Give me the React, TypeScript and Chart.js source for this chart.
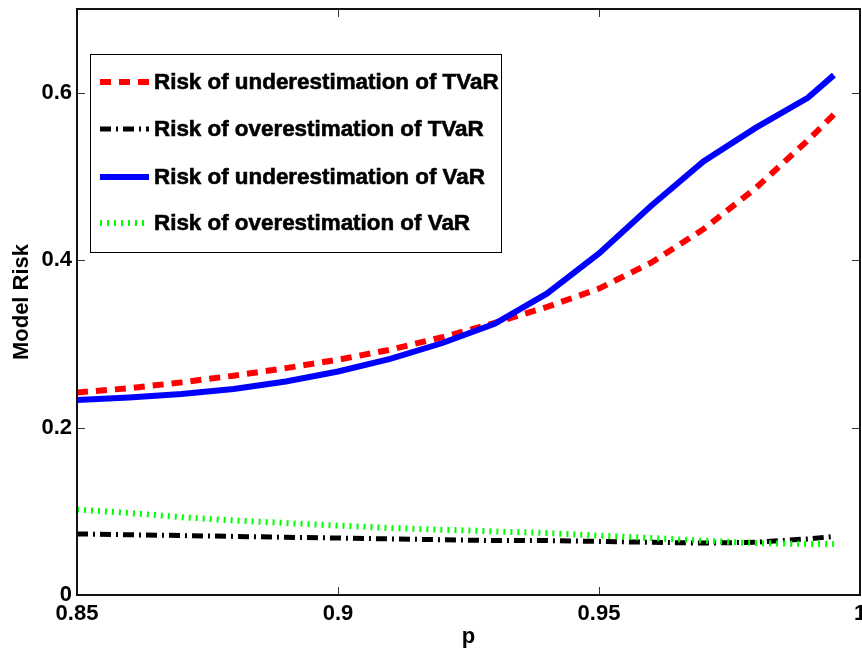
import React, { useEffect, useRef } from "react";
import { Chart, registerables } from "chart.js";

Chart.register(...registerables);

const P = [0.85, 0.86, 0.87, 0.88, 0.89, 0.9, 0.91, 0.92, 0.93, 0.94, 0.95, 0.96, 0.97, 0.98, 0.99, 0.995];
const UNDER_TVAR = [0.242, 0.247, 0.254, 0.262, 0.271, 0.281, 0.293, 0.308, 0.325, 0.344, 0.366, 0.397, 0.437, 0.486, 0.543, 0.574];
const OVER_TVAR = [0.073, 0.072, 0.071, 0.070, 0.069, 0.068, 0.067, 0.066, 0.065, 0.065, 0.064, 0.063, 0.062, 0.063, 0.067, 0.070];
const UNDER_VAR = [0.233, 0.236, 0.240, 0.246, 0.255, 0.267, 0.282, 0.301, 0.324, 0.360, 0.408, 0.465, 0.518, 0.558, 0.594, 0.621];
const OVER_VAR = [0.102, 0.098, 0.093, 0.089, 0.086, 0.083, 0.080, 0.078, 0.076, 0.074, 0.071, 0.068, 0.065, 0.062, 0.061, 0.061];

const X_TICKS = [0.85, 0.9, 0.95, 1];
const Y_TICKS = [0, 0.2, 0.4, 0.6];
const X_LABEL = "p";
const Y_LABEL = "Model Risk";
const SERIES_LABELS = [
  "Risk of underestimation of TVaR",
  "Risk of overestimation of TVaR",
  "Risk of underestimation of VaR",
  "Risk of overestimation of VaR",
];

const FONT = "'Liberation Sans', Arial, sans-serif";

const pts = (ys: number[]) => P.map((x, i) => ({ x, y: ys[i] }));

const boxPlugin = {
  id: "boxAndLegend",
  afterDraw(chart: any) {
    const { ctx, chartArea } = chart;
    const { left, right, top, bottom } = chartArea;
    const xs = chart.scales.x;
    const ys = chart.scales.y;
    ctx.save();
    // inward ticks
    ctx.strokeStyle = "#333";
    ctx.lineWidth = 1;
    ctx.beginPath();
    X_TICKS.forEach((v) => {
      const px = Math.round(xs.getPixelForValue(v)) + 0.5;
      ctx.moveTo(px, bottom);
      ctx.lineTo(px, bottom - 8);
      ctx.moveTo(px, top);
      ctx.lineTo(px, top + 8);
    });
    Y_TICKS.forEach((v) => {
      const py = Math.round(ys.getPixelForValue(v)) + 0.5;
      ctx.moveTo(left, py);
      ctx.lineTo(left + 8, py);
      ctx.moveTo(right, py);
      ctx.lineTo(right - 8, py);
    });
    ctx.stroke();
    // box
    ctx.strokeStyle = "#111";
    ctx.lineWidth = 2;
    ctx.strokeRect(left, top, right - left, bottom - top);

    // legend
    const lx = 90, ly = 54, lw = 411, lh = 198;
    ctx.fillStyle = "#fff";
    ctx.fillRect(lx, ly, lw, lh);
    ctx.strokeStyle = "#000";
    ctx.lineWidth = 1;
    ctx.strokeRect(lx + 0.5, ly + 0.5, lw, lh);
    const rows = [82, 129, 177, 223];
    chart.data.datasets.forEach((ds: any, i: number) => {
      const y = rows[i];
      ctx.save();
      ctx.strokeStyle = ds.borderColor;
      ctx.lineWidth = ds.borderWidth;
      ctx.setLineDash(ds.borderDash || []);
      ctx.lineCap = "butt";
      ctx.beginPath();
      ctx.moveTo(100, y);
      ctx.lineTo(149, y);
      ctx.stroke();
      ctx.restore();
      ctx.fillStyle = "#000";
      ctx.strokeStyle = "#000";
      ctx.lineWidth = 0.6;
      ctx.font = `bold 22.4px ${FONT}`;
      ctx.textBaseline = "middle";
      ctx.textAlign = "left";
      ctx.fillText(ds.label, 154, y + 1);
      ctx.strokeText(ds.label, 154, y + 1);
    });
    ctx.restore();
  },
};

export default function App() {
  const ref = useRef<HTMLCanvasElement | null>(null);
  useEffect(() => {
    if (!ref.current) return;
    const chart = new Chart(ref.current, {
      type: "line",
      data: {
        datasets: [
          {
            label: SERIES_LABELS[0],
            data: pts(UNDER_TVAR),
            borderColor: "#ff0000",
            borderWidth: 6,
            borderDash: [11, 8],
            pointRadius: 0,
            tension: 0,
            order: 4,
          },
          {
            label: SERIES_LABELS[1],
            data: pts(OVER_TVAR),
            borderColor: "#000000",
            borderWidth: 5,
            borderDash: [11, 5, 2, 5],
            pointRadius: 0,
            tension: 0,
            order: 3,
          },
          {
            label: SERIES_LABELS[2],
            data: pts(UNDER_VAR),
            borderColor: "#0000ff",
            borderWidth: 6,
            pointRadius: 0,
            tension: 0,
            order: 2,
          },
          {
            label: SERIES_LABELS[3],
            data: pts(OVER_VAR),
            borderColor: "#00ff00",
            borderWidth: 6,
            borderDash: [2, 5],
            pointRadius: 0,
            tension: 0,
            order: 1,
          },
        ],
      },
      options: {
        animation: false,
        responsive: true,
        maintainAspectRatio: false,
        layout: { padding: { left: 0, right: 2, top: 9, bottom: 0 } },
        plugins: { legend: { display: false }, tooltip: { enabled: false } },
        scales: {
          x: {
            type: "linear",
            min: 0.85,
            max: 1,
            grid: { display: false, drawTicks: false },
            border: { display: false },
            afterBuildTicks: (s: any) => {
              s.ticks = X_TICKS.map((v) => ({ value: v }));
            },
            afterFit: (s: any) => {
              s.height = 57;
              s.paddingLeft = 0;
              s.paddingRight = 0;
            },
            ticks: {
              color: "#000",
              padding: 6,
              maxRotation: 0,
              autoSkip: false,
              font: { family: FONT, size: 22, weight: "bold" },
              callback: (v: any) => String(v),
            },
            title: {
              display: true,
              text: X_LABEL,
              color: "#000",
              padding: { top: 0, bottom: 2 },
              font: { family: FONT, size: 22, weight: "bold" },
            },
          },
          y: {
            type: "linear",
            min: 0,
            max: 0.7,
            grid: { display: false, drawTicks: false },
            border: { display: false },
            afterBuildTicks: (s: any) => {
              s.ticks = Y_TICKS.map((v) => ({ value: v }));
            },
            afterFit: (s: any) => {
              s.width = 77;
              s.paddingTop = 0;
              s.paddingBottom = 0;
            },
            ticks: {
              color: "#000",
              padding: 5,
              autoSkip: false,
              font: { family: FONT, size: 22, weight: "bold" },
              callback: (v: any) => String(v),
            },
            title: {
              display: true,
              text: Y_LABEL,
              color: "#000",
              padding: { top: 9, bottom: 0 },
              font: { family: FONT, size: 22, weight: "bold" },
            },
          },
        },
      },
      plugins: [boxPlugin],
    } as any);
    return () => chart.destroy();
  }, []);
  return (
    <div style={{ position: "absolute", left: 0, top: 0, width: 862, height: 652, background: "#fff" }}>
      <canvas ref={ref} />
    </div>
  );
}
